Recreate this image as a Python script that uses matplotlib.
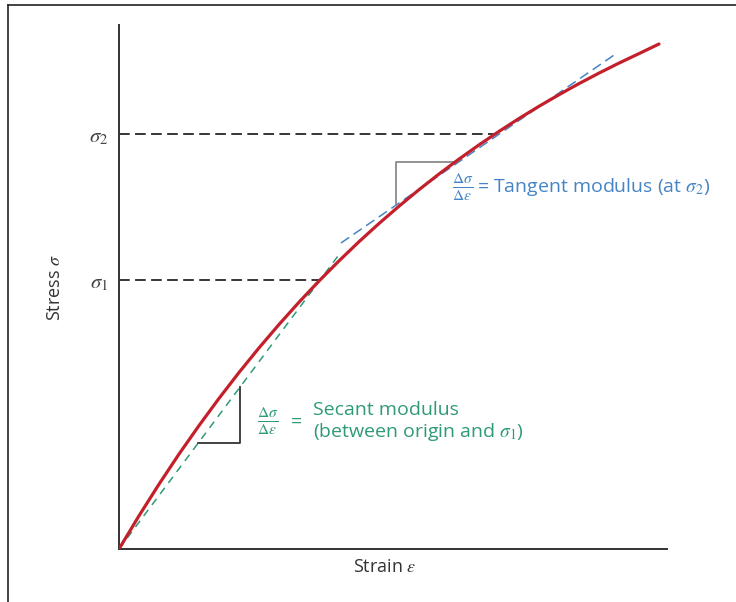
"""Stress-strain sketch: secant and tangent modulus (schematic, arbitrary units)."""
import matplotlib
matplotlib.use("Agg")
import matplotlib.pyplot as plt
from matplotlib.lines import Line2D

plt.rcParams.update({
    "font.family": ["Open Sans", "DejaVu Sans"],
    "mathtext.fontset": "stix",
    "text.color": "#333333",
})

# --- data (arbitrary units) ----------------------------------------------------------------
strain = [0, 20, 40, 60, 80, 100, 120, 140, 160, 180, 200, 220, 240, 260,
          280, 300, 320, 340, 360, 380, 400, 420, 440, 460, 480, 500, 520, 540]
stress = [0, 33.2, 64.8, 94.9, 123.4, 150.6, 176.5, 201.1, 224.5, 246.8, 268.0,
          288.1, 307.3, 325.5, 342.8, 359.3, 375.0, 389.9, 404.1, 417.6, 430.5,
          442.7, 454.3, 465.4, 475.9, 485.9, 495.4, 505.0]

sigma_levels = [269, 415]          # sigma_1, sigma_2
sigma_strain = [201, 378]          # where the curve reaches them
sigma_labels = [r"$\sigma_1$", r"$\sigma_2$"]

secant_x = [0, 219]
secant_y = [0, 293]
tangent_x = [222, 498]
tangent_y = [306, 496]
secant_tri_x = [79, 121, 121]      # slope triangle under the secant line
secant_tri_y = [106, 106, 162]
tangent_tri_x = [277, 277, 339]    # slope triangle over the tangent line
tangent_tri_y = [344, 387, 387]

RED, GREEN, BLUE, AX = "#c3202c", "#2f9a78", "#4584c6", "#333333"

fig = plt.figure(figsize=(7.36, 6.02), dpi=100)
ax = fig.add_axes([119 / 736, 1 - 549 / 602, 548 / 736, 524 / 602])
ax.set_xlim(0, 548)
ax.set_ylim(0, 524)
for s in ("top", "right"):
    ax.spines[s].set_visible(False)
for s in ("left", "bottom"):
    ax.spines[s].set_color(AX)
    ax.spines[s].set_linewidth(1.4)
ax.set_xticks([])
ax.set_yticks(sigma_levels)
ax.set_yticklabels(sigma_labels, fontsize=15, color="#444444")
ax.tick_params(axis="y", length=0, pad=8)

# horizontal guides to sigma_1 / sigma_2
for xs, ys in zip(sigma_strain, sigma_levels):
    ax.plot([0, xs], [ys, ys], color="black", lw=1.1, dashes=[7, 3.5], zorder=2)

# secant and tangent lines
ax.plot(secant_x, secant_y, color=GREEN, lw=1.1, dashes=[5, 4], zorder=2)
ax.plot(tangent_x, tangent_y, color=BLUE, lw=1.1, dashes=[6.5, 3.5], zorder=2)
ax.plot(secant_tri_x, secant_tri_y, color="#333333", lw=1.3, zorder=2)
ax.plot(tangent_tri_x, tangent_tri_y, color="#8a8a8a", lw=1.3, zorder=2)

# stress-strain curve
ax.plot(strain, stress, color=RED, lw=2.3, zorder=3,
        solid_capstyle="round", solid_joinstyle="round")

# annotations
ax.text(333, 362, r"$\frac{\Delta\sigma}{\Delta\varepsilon}$", color=BLUE, fontsize=16,
        ha="left", va="center")
ax.text(358, 362, r"= Tangent modulus (at $\sigma_2$)", color=BLUE, fontsize=14,
        ha="left", va="center")
ax.text(138, 128, r"$\frac{\Delta\sigma}{\Delta\varepsilon}$", color=GREEN, fontsize=16,
        ha="left", va="center")
ax.text(172, 127, "=", color=GREEN, fontsize=14, ha="left", va="center")
ax.text(194, 127, "Secant modulus\n(between origin and $\\sigma_1$)", color=GREEN,
        fontsize=14, ha="left", va="center", linespacing=1.1)

ax.set_xlabel(r"Strain $\varepsilon$", fontsize=13, color=AX)
ax.set_ylabel(r"Stress $\sigma$", fontsize=13, color=AX)
ax.xaxis.set_label_coords(0.485, -0.018)
ax.yaxis.set_label_coords(-0.100, 0.5)

# thin frame around the picture (top and left edges visible)
fig.add_artist(Line2D([8 / 736, 8 / 736], [0, 1 - 5 / 602], transform=fig.transFigure,
                      color="#222222", lw=1.2))
fig.add_artist(Line2D([8 / 736, 1], [1 - 5 / 602, 1 - 5 / 602], transform=fig.transFigure,
                      color="#222222", lw=1.2))

fig.savefig("out.png", dpi=100)
